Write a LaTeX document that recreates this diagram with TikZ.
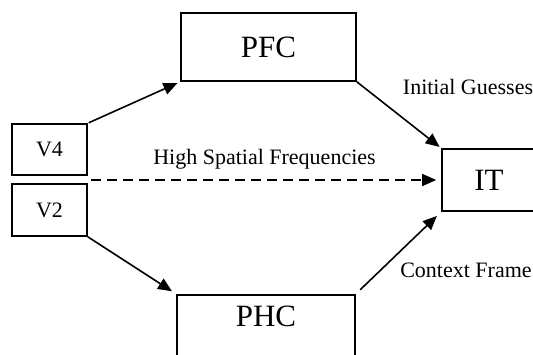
\documentclass[tikz,border=0pt]{standalone}
\usepackage{fontspec}
\setmainfont{Liberation Serif}
\usepackage{tikz}
\usetikzlibrary{shapes,arrows.meta}
\tikzstyle{area} = [rectangle, draw, line width=1.6pt, inner sep=0pt,
    font=\fontsize{31}{36}\selectfont]
\tikzstyle{early} = [rectangle, draw, line width=1.6pt, inner sep=0pt,
    minimum width=75pt, font=\fontsize{22}{26}\selectfont]
\tikzstyle{tag} = [font=\fontsize{22}{26}\selectfont, inner sep=0pt]
\tikzstyle{line} = [draw, line width=1.6pt, -{Triangle[length=14pt,width=12pt]}]

\begin{document}
\begin{tikzpicture}[x=1pt, y=-1pt]
    \path[use as bounding box, clip] (0,0) rectangle (533,354);
    % Place nodes
    \node [area, minimum width=175pt, minimum height=68pt] (PFC) at (268.5,47) {PFC};
    \node [early, minimum height=51pt] (V4) at (49.5,149.5) {V4};
    \node [early, minimum height=52pt] (V2) at (49.5,210) {V2};
    \node [area, minimum width=94pt, minimum height=62pt] (IT) at (489,180) {IT};
    \node [area, anchor=north, minimum width=178pt, inner ysep=11pt,
        text height=21pt, text depth=60pt] (PHC) at (266,294) {PHC};

    \node [tag] (IG) at (468,87) {Initial Guesses};
    \node [tag] (CF) at (466,270) {Context Frame};

    % Draw edges
    \path [line, shorten <=1pt, shorten >=3pt] (V4.north east) -- (PFC.south west);
    \path [line, shorten >=2pt] (PFC.south east) -- (IT.north west);
    \path [line, shorten >=5pt] (V2.south east) -- (PHC.north west);
    \path [line, shorten <=6pt, shorten >=6pt] (PHC.north east) -- (IT.south west);

    % Dashed route
    \path [line, dash pattern=on 10pt off 6pt, shorten <=3pt, shorten >=5pt]
        (V2.north east |- IT.west) -- node[tag, above=10pt] (HSF) {High Spatial Frequencies} (IT.west);
\end{tikzpicture}
\end{document}
